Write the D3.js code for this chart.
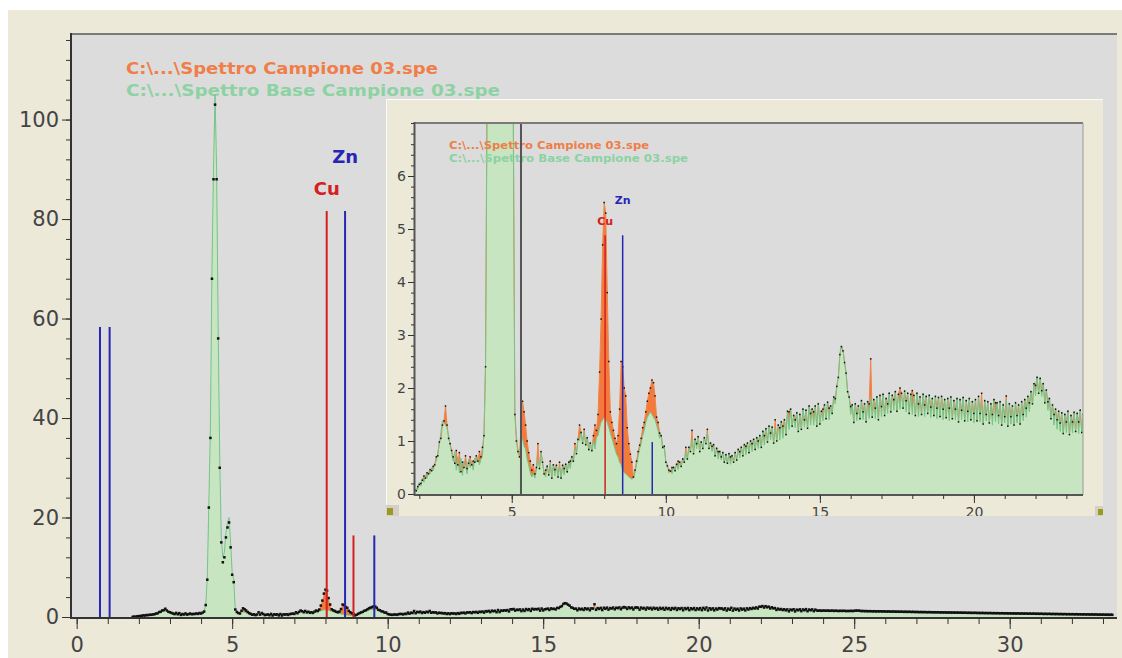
<!DOCTYPE html>
<meta charset="utf-8">

<script src="https://d3js.org/d3.v7.min.js"></script>

<style type="text/css">
body { margin:0; background:#fff; }
svg { display:block; }
.tick line { stroke:#333; }
.tick text { font-family:"DejaVu Sans", sans-serif; fill:#444; }
.legend { font-family:"DejaVu Sans", sans-serif; font-weight:bold; }
</style>

<body>
</body>

<script>

// channel calibration of both spectra (keV)
var E_START = 1.8, E_STEP = 0.05;

// Spettro Base Campione 03 (counts, one value per channel, 1.80 .. 33.30 keV)
var base = [
  0.02,0.05,0.10,0.08,0.22,0.15,0.30,0.22,0.36,0.30,0.42,0.38,0.50,0.44,0.58,0.62,0.78,0.95,1.15,1.38, // 1.80
  1.35,1.30,1.25,1.10,0.92,0.78,0.62,0.80,0.45,0.70,0.40,0.68,0.35,0.62,0.55,0.38,0.66,0.50,0.62,0.45, // 2.80
  0.68,0.60,0.70,0.55,0.65,0.72,1.20,2.50,8,23,38,70,90,105,90,58,32,16,12,13,                         // 3.80
  17,19,20,15,9,7.5,1.6,1.10,0.85,0.75,0.95,1.05,0.90,0.85,0.65,0.55,0.40,0.32,0.38,0.30,              // 4.80
  0.45,0.65,0.50,0.78,0.58,0.40,0.32,0.55,0.36,0.58,0.32,0.55,0.34,0.56,0.32,0.52,0.30,0.56,0.36,0.58, // 5.80
  0.40,0.62,0.48,0.72,0.60,0.85,0.78,1.05,1.00,1.18,0.98,1.15,0.95,1.08,0.82,0.98,0.80,1.00,0.85,1.08, // 6.80
  1.10,1.25,1.35,1.40,1.45,1.40,1.35,1.25,1.15,1.05,0.95,0.85,0.75,0.70,0.60,0.55,0.45,0.40,0.38,0.35, // 7.80
  0.32,0.30,0.28,0.30,0.40,0.55,0.70,0.85,0.95,1.10,1.20,1.35,1.45,1.50,1.55,1.50,1.45,1.40,1.30,1.20, // 8.80
  1.05,1.12,0.85,0.92,0.62,0.55,0.40,0.45,0.38,0.52,0.44,0.58,0.46,0.62,0.52,0.68,0.60,0.80,0.66,0.90, // 9.80
  0.82,1.02,0.78,1.05,0.85,1.10,0.80,1.00,0.86,1.08,0.95,1.15,0.88,0.98,0.80,0.95,0.72,0.88,0.66,0.82, // 10.80
  0.64,0.80,0.60,0.76,0.58,0.78,0.56,0.74,0.60,0.80,0.64,0.86,0.68,0.90,0.72,0.95,0.74,0.98,0.78,1.02, // 11.80
  0.80,1.05,0.84,1.08,0.86,1.12,0.88,1.20,0.92,1.25,0.98,1.30,1.02,1.28,0.96,1.24,1.00,1.32,1.02,1.38, // 12.80
  1.05,1.42,1.12,1.58,1.22,1.62,1.28,1.50,1.25,1.55,1.18,1.52,1.22,1.62,1.26,1.60,1.24,1.68,1.30,1.62, // 13.80
  1.30,1.68,1.28,1.72,1.32,1.58,1.38,1.70,1.42,1.75,1.40,1.68,1.52,1.85,1.70,2.05,2.20,2.65,2.80,2.72, // 14.80
  2.50,2.30,1.95,1.85,1.50,1.70,1.35,1.72,1.38,1.68,1.42,1.78,1.40,1.72,1.36,1.76,1.42,1.82,1.45,1.80, // 15.80
  1.42,1.85,1.40,1.88,1.46,1.90,1.48,1.82,1.52,1.92,1.55,1.88,1.58,1.95,1.56,1.90,1.60,1.92,1.62,1.96, // 16.80
  1.55,1.92,1.52,1.90,1.50,1.88,1.48,1.92,1.46,1.85,1.50,1.90,1.46,1.86,1.52,1.88,1.44,1.82,1.48,1.86, // 17.80
  1.42,1.84,1.46,1.86,1.40,1.80,1.44,1.82,1.38,1.85,1.42,1.78,1.40,1.82,1.36,1.80,1.40,1.84,1.38,1.78, // 18.80
  1.36,1.82,1.40,1.76,1.34,1.80,1.38,1.86,1.36,1.74,1.32,1.78,1.38,1.76,1.34,1.72,1.30,1.80,1.36,1.74, // 19.80
  1.32,1.76,1.30,1.70,1.34,1.78,1.28,1.72,1.32,1.68,1.30,1.74,1.34,1.70,1.32,1.76,1.38,1.80,1.45,1.86, // 20.80
  1.55,1.95,1.70,2.10,1.85,2.22,1.90,2.20,1.84,2.10,1.72,1.98,1.58,1.82,1.42,1.70,1.30,1.62,1.22,1.58, // 21.80
  1.18,1.55,1.14,1.52,1.16,1.58,1.12,1.50,1.15,1.56,1.18,1.54,1.14,1.60,1.16,1.52,1.12,1.55,1.18,1.50, // 22.80
  1.28,1.33,1.25,1.31,1.27,1.24,1.30,1.26,1.22,1.29,1.24,1.27,1.21,1.26,1.23,1.20,1.25,1.22,1.27,1.21, // 23.80
  1.19,1.24,1.20,1.23,1.18,1.26,1.29,1.32,1.25,1.21,1.17,1.22,1.16,1.20,1.15,1.19,1.17,1.14,1.18,1.13, // 24.80
  1.16,1.12,1.15,1.10,1.14,1.11,1.08,1.13,1.09,1.12,1.07,1.10,1.06,1.11,1.05,1.08,1.04,1.09,1.03,1.07, // 25.80
  1.02,1.06,1.03,1.00,1.05,0.99,1.03,0.98,1.02,0.97,1.01,0.99,0.96,1.00,0.95,0.98,0.94,0.99,0.93,0.97, // 26.80
  0.95,0.92,0.96,0.91,0.94,0.90,0.93,0.89,0.94,0.88,0.92,0.87,0.91,0.89,0.86,0.90,0.85,0.88,0.84,0.89, // 27.80
  0.86,0.83,0.87,0.82,0.85,0.81,0.84,0.80,0.83,0.82,0.79,0.83,0.78,0.81,0.77,0.82,0.76,0.80,0.75,0.79, // 28.80
  0.77,0.74,0.78,0.73,0.76,0.72,0.75,0.74,0.71,0.75,0.70,0.73,0.69,0.74,0.68,0.72,0.67,0.71,0.69,0.66, // 29.80
  0.70,0.65,0.69,0.64,0.68,0.63,0.67,0.65,0.62,0.66,0.61,0.65,0.60,0.64,0.62,0.59,0.63,0.58,0.62,0.57, // 30.80
  0.61,0.56,0.60,0.58,0.55,0.59,0.54,0.58,0.53,0.57,0.55,0.52,0.56,0.51,0.55,0.50,0.54,0.52,0.49,0.53, // 31.80
  0.48,0.52,0.47,0.51,0.49,0.46,0.50,0.45,0.49,0.44,0.48                                              // 32.80
];

// Spettro Campione 03 (counts, same channels)
var sample = [
  0.03,0.08,0.06,0.14,0.18,0.20,0.26,0.34,0.30,0.40,0.38,0.46,0.44,0.52,0.55,0.70,0.72,0.98,1.05,1.30, // 1.80
  1.38,1.66,1.30,1.05,0.95,0.82,0.70,0.58,0.82,0.55,0.78,0.42,0.60,0.50,0.72,0.48,0.58,0.70,0.55,0.62, // 2.80
  0.60,0.72,0.62,0.80,0.70,0.88,1.10,2.40,7.5,22,36,68,88,103,88,56,30,15,11,12,                       // 3.80
  16,18,19,14,8.5,7,1.5,1.0,0.80,0.70,1.25,1.75,1.55,1.30,1.00,0.78,0.62,0.45,0.55,0.38,               // 4.80
  0.50,0.95,0.48,0.80,0.60,0.38,0.45,0.52,0.36,0.62,0.30,0.55,0.46,0.54,0.32,0.60,0.30,0.54,0.48,0.56, // 5.80
  0.42,0.60,0.62,0.70,0.62,0.95,0.76,1.03,1.30,1.16,0.96,1.22,0.93,1.06,0.84,0.96,0.82,1.10,1.30,1.20, // 6.80
  1.50,2.30,3.30,4.70,5.50,5.30,3.80,2.50,1.55,1.35,1.20,1.05,0.95,1.10,1.60,2.50,2.40,2.00,1.85,1.25, // 7.80
  0.95,0.75,0.60,0.32,0.45,0.62,0.80,0.92,1.05,1.25,1.35,1.55,1.75,1.90,2.00,2.15,2.10,1.85,1.45,1.35, // 8.80
  1.15,1.10,0.88,0.90,0.60,0.53,0.45,0.43,0.50,0.50,0.44,0.56,0.62,0.60,0.52,0.66,0.60,0.88,0.66,0.88, // 9.80
  0.80,1.20,0.76,1.03,0.95,1.08,0.80,0.98,0.86,1.06,0.95,1.22,0.86,0.96,0.90,0.93,0.72,0.86,0.80,0.80, // 10.80
  0.70,0.78,0.60,0.74,0.58,0.76,0.70,0.72,0.60,0.78,0.64,0.84,0.80,0.88,0.72,0.93,0.90,0.96,0.78,1.00, // 11.80
  0.95,1.03,0.84,1.06,1.00,1.10,0.88,1.18,1.10,1.23,0.98,1.28,1.15,1.26,0.96,1.40,1.00,1.30,1.25,1.36, // 12.80
  1.28,1.40,1.12,1.56,1.55,1.60,1.28,1.48,1.40,1.53,1.18,1.50,1.22,1.60,1.40,1.58,1.24,1.66,1.52,1.60, // 13.80
  1.55,1.66,1.28,1.70,1.32,1.56,1.60,1.68,1.42,1.73,1.62,1.66,1.52,1.83,1.80,2.03,2.20,2.63,2.78,2.70, // 14.80
  2.48,2.28,1.93,1.83,1.65,1.68,1.35,1.70,1.52,1.66,1.42,1.76,1.55,1.70,1.36,1.74,1.70,2.55,1.45,1.78, // 15.80
  1.62,1.83,1.40,1.86,1.65,1.88,1.48,1.80,1.70,1.90,1.55,1.86,1.78,1.93,1.56,1.88,2.00,1.90,1.62,1.94, // 16.80
  1.76,1.90,1.52,1.88,1.95,1.86,1.48,1.90,1.70,1.83,1.50,1.88,1.68,1.84,1.52,1.86,1.64,1.80,1.48,1.84, // 17.80
  1.62,1.82,1.46,1.84,1.60,1.78,1.44,1.80,1.62,1.83,1.42,1.76,1.60,1.80,1.36,1.78,1.58,1.82,1.38,1.76, // 18.80
  1.56,1.80,1.40,1.74,1.52,1.78,1.38,1.84,1.52,1.90,1.32,1.76,1.50,1.74,1.34,1.70,1.50,1.78,1.72,1.72, // 19.80
  1.48,1.74,1.30,1.68,1.46,1.85,1.28,1.70,1.46,1.66,1.30,1.72,1.48,1.68,1.32,1.74,1.50,1.78,1.62,1.84, // 20.80
  1.72,1.93,1.70,2.08,2.05,2.20,1.90,2.18,1.95,2.08,1.72,1.96,1.74,1.80,1.42,1.68,1.50,1.60,1.40,1.56, // 21.80
  1.34,1.53,1.14,1.50,1.36,1.56,1.12,1.48,1.36,1.54,1.18,1.52,1.36,1.58,1.16,1.50,1.36,1.53,1.18,1.48, // 22.80
  1.30,1.26,1.32,1.24,1.30,1.28,1.25,1.31,1.24,1.26,1.29,1.22,1.27,1.24,1.20,1.26,1.21,1.25,1.23,1.19, // 23.80
  1.22,1.20,1.25,1.19,1.24,1.30,1.27,1.29,1.22,1.19,1.21,1.17,1.19,1.15,1.18,1.16,1.13,1.17,1.12,1.15, // 24.80
  1.13,1.15,1.11,1.13,1.12,1.09,1.12,1.10,1.07,1.11,1.08,1.06,1.09,1.05,1.07,1.06,1.03,1.07,1.02,1.05, // 25.80
  1.04,1.01,1.05,0.99,1.02,1.00,0.98,1.01,0.97,1.00,0.98,0.95,0.99,0.96,0.97,0.94,0.96,0.93,0.96,0.92, // 26.80
  0.94,0.91,0.93,0.92,0.89,0.92,0.90,0.88,0.91,0.87,0.90,0.88,0.86,0.89,0.85,0.87,0.86,0.83,0.86,0.82, // 27.80
  0.84,0.82,0.85,0.80,0.83,0.79,0.82,0.81,0.78,0.81,0.77,0.80,0.79,0.76,0.79,0.75,0.78,0.76,0.74,0.77, // 28.80
  0.75,0.72,0.76,0.71,0.74,0.73,0.70,0.74,0.69,0.72,0.71,0.68,0.72,0.67,0.70,0.69,0.66,0.70,0.65,0.68, // 29.80
  0.67,0.64,0.67,0.63,0.66,0.64,0.61,0.65,0.60,0.64,0.62,0.59,0.63,0.58,0.61,0.60,0.57,0.61,0.56,0.59, // 30.80
  0.58,0.55,0.59,0.54,0.57,0.56,0.53,0.57,0.52,0.55,0.54,0.51,0.55,0.50,0.53,0.52,0.49,0.53,0.48,0.51, // 31.80
  0.50,0.47,0.50,0.46,0.49,0.47,0.45,0.48,0.44,0.47,0.45                                              // 32.80
];

var legendNames = ["C:\\...\\Spettro Campione 03.spe", "C:\\...\\Spettro Base Campione 03.spe"];

// element lines in the main view
var mainLineEnergy  = [0.75, 1.06, 8.04, 8.63, 8.90, 9.57];
var mainLineElement = ["Zn", "Zn", "Cu", "Zn", "Cu", "Zn"];
var mainLineName    = ["Zn L", "Zn L", "Cu Ka", "Zn Ka", "Cu Kb", "Zn Kb"];
var mainLineHeight  = [58.3, 58.3, 81.6, 81.6, 16.4, 16.4];

// element lines in the zoomed view
var insetLineEnergy  = [8.03, 8.60, 9.56];
var insetLineElement = ["Cu", "Zn", "Zn"];
var insetLineName    = ["Cu Ka", "Zn Ka", "Zn Kb"];
var insetLineHeight  = [4.88, 4.88, 0.98];
var insetCursor = 5.3;

var mainXTicks = [0, 5, 10, 15, 20, 25, 30];
var mainYTicks = [0, 20, 40, 60, 80, 100];
var insetXTicks = [5, 10, 15, 20];
var insetYTicks = [0, 1, 2, 3, 4, 5, 6];

var n = Math.min(base.length, sample.length);
var channels = [];
for (var i = 0; i < n; i++) {
  channels.push({e: E_START + i * E_STEP, base: base[i], sample: sample[i]});
}

var elColor = {Cu: "#D42020", Zn: "#2626B4"};

var svg = d3.select("body").append("svg")
  .attr("width", 1122)
  .attr("height", 658);

// window background
svg.append("rect").attr("x", 8).attr("y", 10).attr("width", 1114).attr("height", 648).attr("fill", "#ECE9D8");

function drawSpectrum(g, xs, ys, dot, sampleLine) {
  var area = function(key) { return d3.area().x(function(d) { return xs(d.e); }).y0(ys(0)).y1(function(d) { return ys(d[key]); }); };
  var line = function(key) { return d3.line().x(function(d) { return xs(d.e); }).y(function(d) { return ys(d[key]); }); };
  g.append("path").datum(channels).attr("d", area("sample")).attr("fill", "#F37A3A");
  g.append("path").datum(channels).attr("d", area("base")).attr("fill", "#C6E5C0");
  if (sampleLine) {
    g.append("path").datum(channels).attr("d", line("sample")).attr("fill", "none").attr("stroke", "#F0854C").attr("stroke-width", 1);
  }
  g.append("path").datum(channels).attr("d", line("base")).attr("fill", "none").attr("stroke", "#74C68B").attr("stroke-width", 1);
  g.selectAll(".dot").data(channels).enter().append("rect")
    .attr("class", "dot")
    .attr("x", function(d) { return xs(d.e) - dot / 2; })
    .attr("y", function(d) { return ys(d.sample) - dot / 2; })
    .attr("width", dot)
    .attr("height", dot)
    .attr("fill", "#111");
}

function drawLines(g, xs, ys, energy, element, name, height, width, fontSize, lift) {
  var rows = energy.map(function(e, i) { return {e: e, el: element[i], name: name[i], h: height[i]}; });
  g.selectAll(".elline").data(rows).enter().append("line")
    .attr("class", "elline")
    .attr("x1", function(d) { return xs(d.e); })
    .attr("x2", function(d) { return xs(d.e); })
    .attr("y1", ys(0))
    .attr("y2", function(d) { return ys(d.h); })
    .attr("stroke", function(d) { return elColor[d.el]; })
    .attr("stroke-width", width);
  g.selectAll(".ellabel").data(rows.filter(function(d) { return /Ka$/.test(d.name); })).enter().append("text")
    .attr("class", "legend")
    .attr("x", function(d) { return xs(d.e); })
    .attr("y", function(d) { return ys(d.h) - lift[d.el]; })
    .attr("text-anchor", "middle")
    .style("font-size", fontSize + "px")
    .attr("fill", function(d) { return elColor[d.el]; })
    .text(function(d) { return d.el; });
}

function styleAxis(g, size) {
  g.select(".domain").remove();
  g.selectAll(".tick text").style("font-size", size + "px");
}

// ---------- main view ----------
var mx = d3.scaleLinear().domain([-0.15, 33.45]).range([72, 1117]);
var my = d3.scaleLinear().domain([0, 117.2]).range([617, 34]);

svg.append("rect").attr("x", 72).attr("y", 34).attr("width", 1045).attr("height", 583).attr("fill", "#DCDCDC");
svg.append("clipPath").attr("id", "mainClip").append("rect")
  .attr("x", 72).attr("y", 34).attr("width", 1045).attr("height", 583);

var legendColors = ["#EF7E48", "#8CD2A2"];
svg.selectAll(".mainLegend").data(legendNames).enter().append("text")
  .attr("class", "legend")
  .attr("x", 126)
  .attr("y", function(d, i) { return 74 + i * 22; })
  .attr("textLength", function(d, i) { return i ? 374 : 312; })
  .attr("lengthAdjust", "spacingAndGlyphs")
  .style("font-size", "16px")
  .attr("fill", function(d, i) { return legendColors[i]; })
  .text(function(d) { return d; });

var mainG = svg.append("g").attr("clip-path", "url(#mainClip)");
drawSpectrum(mainG, mx, my, 2.5, false);
drawLines(mainG, mx, my, mainLineEnergy, mainLineElement, mainLineName, mainLineHeight, 2, 18, {Cu: 16, Zn: 48});

svg.append("line").attr("x1", 70).attr("x2", 1117).attr("y1", 34).attr("y2", 34).attr("stroke", "#7A7A7A").attr("stroke-width", 2);
svg.append("line").attr("x1", 71).attr("x2", 71).attr("y1", 33).attr("y2", 618).attr("stroke", "#333").attr("stroke-width", 2);
svg.append("line").attr("x1", 70).attr("x2", 1117).attr("y1", 618).attr("y2", 618).attr("stroke", "#333").attr("stroke-width", 2);

svg.append("g").attr("transform", "translate(71,0)")
  .call(d3.axisLeft(my).tickValues(d3.range(0, 117, 4)).tickSize(5).tickFormat(""))
  .call(styleAxis, 21);
svg.append("g").attr("transform", "translate(71,0)")
  .call(d3.axisLeft(my).tickValues(mainYTicks).tickSize(9).tickPadding(3).tickFormat(d3.format("d")))
  .call(styleAxis, 21);
svg.append("g").attr("transform", "translate(0,618)")
  .call(d3.axisBottom(mx).tickValues(d3.range(0, 34, 1)).tickSize(6).tickFormat(""))
  .call(styleAxis, 21);
svg.append("g").attr("transform", "translate(0,618)")
  .call(d3.axisBottom(mx).tickValues(mainXTicks).tickSize(11).tickPadding(8).tickFormat(d3.format("d")))
  .call(styleAxis, 21);

// ---------- zoomed view ----------
var ix = d3.scaleLinear().domain([1.86, 23.54]).range([415, 1083]);
var iy = d3.scaleLinear().domain([0, 7]).range([494, 123]);

svg.append("clipPath").attr("id", "panelClip").append("rect")
  .attr("x", 386).attr("y", 99).attr("width", 717).attr("height", 417);
svg.append("clipPath").attr("id", "insetClip").append("rect")
  .attr("x", 415).attr("y", 123).attr("width", 668).attr("height", 371);

var panel = svg.append("g").attr("clip-path", "url(#panelClip)");
panel.append("rect").attr("x", 386).attr("y", 99).attr("width", 717).attr("height", 417).attr("fill", "#ECE9D8");
panel.append("line").attr("x1", 386.5).attr("x2", 386.5).attr("y1", 99).attr("y2", 516).attr("stroke", "#FBFBF6");
panel.append("line").attr("x1", 386).attr("x2", 1103).attr("y1", 99.5).attr("y2", 99.5).attr("stroke", "#FBFBF6");
panel.append("rect").attr("x", 415).attr("y", 123).attr("width", 668).attr("height", 371).attr("fill", "#DCDCDC");

var insetG = panel.append("g").attr("clip-path", "url(#insetClip)");
drawSpectrum(insetG, ix, iy, 1.5, true);

insetG.selectAll(".inLegend").data(legendNames).enter().append("text")
  .attr("class", "legend")
  .attr("x", 449)
  .attr("y", function(d, i) { return 149 + i * 13; })
  .attr("textLength", function(d, i) { return i ? 239 : 200; })
  .attr("lengthAdjust", "spacingAndGlyphs")
  .style("font-size", "11px")
  .attr("fill", function(d, i) { return legendColors[i]; })
  .text(function(d) { return d; });

insetG.append("line")
  .attr("x1", ix(insetCursor)).attr("x2", ix(insetCursor))
  .attr("y1", 123).attr("y2", 494)
  .attr("stroke", "#555").attr("stroke-width", 2);
drawLines(insetG, ix, iy, insetLineEnergy, insetLineElement, insetLineName, insetLineHeight, 1.5, 11, {Cu: 10, Zn: 31});

panel.append("line").attr("x1", 414).attr("x2", 1083).attr("y1", 123).attr("y2", 123).attr("stroke", "#7A7A7A").attr("stroke-width", 2);
panel.append("line").attr("x1", 1083).attr("x2", 1083).attr("y1", 123).attr("y2", 495).attr("stroke", "#9A9A9A").attr("stroke-width", 1);
panel.append("line").attr("x1", 414.5).attr("x2", 414.5).attr("y1", 122).attr("y2", 495.5).attr("stroke", "#555").attr("stroke-width", 2);
panel.append("line").attr("x1", 414).attr("x2", 1083).attr("y1", 495).attr("y2", 495).attr("stroke", "#555").attr("stroke-width", 2);

panel.append("g").attr("transform", "translate(414,0)")
  .call(d3.axisLeft(iy).tickValues(d3.range(0, 7.01, 0.2)).tickSize(3).tickFormat(""))
  .call(styleAxis, 14);
panel.append("g").attr("transform", "translate(414,0)")
  .call(d3.axisLeft(iy).tickValues(insetYTicks).tickSize(6).tickPadding(2).tickFormat(d3.format("d")))
  .call(styleAxis, 14);
panel.append("g").attr("transform", "translate(0,495)")
  .call(d3.axisBottom(ix).tickValues(d3.range(2, 24, 1)).tickSize(4).tickFormat(""))
  .call(styleAxis, 14);
panel.append("g").attr("transform", "translate(0,495)")
  .call(d3.axisBottom(ix).tickValues(insetXTicks).tickSize(8).tickPadding(4).tickFormat(d3.format("d")))
  .call(styleAxis, 14);

// scroll buttons of the zoom window
panel.append("rect").attr("x", 386).attr("y", 505).attr("width", 13).attr("height", 11).attr("fill", "#D4D0C8");
panel.append("rect").attr("x", 387).attr("y", 508).attr("width", 6).attr("height", 7).attr("fill", "#9A9A1E");
panel.append("rect").attr("x", 1095).attr("y", 506).attr("width", 8).attr("height", 10).attr("fill", "#D4D0C8");
panel.append("rect").attr("x", 1098).attr("y", 509).attr("width", 5).attr("height", 6).attr("fill", "#9A9A1E");

</script>
